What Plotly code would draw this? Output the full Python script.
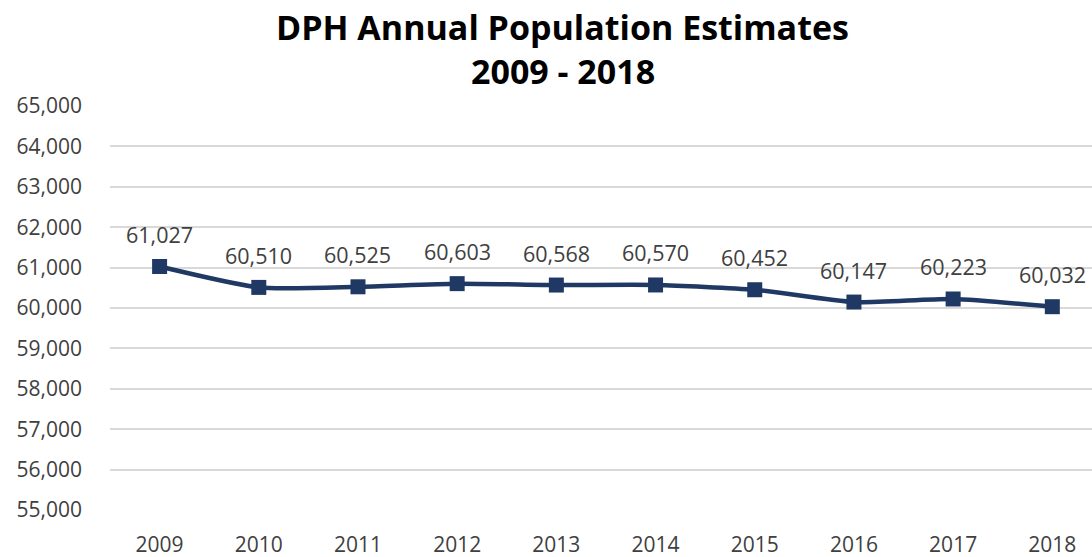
import plotly.graph_objects as go

years = ["2009", "2010", "2011", "2012", "2013", "2014", "2015", "2016", "2017", "2018"]
population = [61027, 60510, 60525, 60603, 60568, 60570, 60452, 60147, 60223, 60032]
y_ticks = [55000, 56000, 57000, 58000, 59000, 60000, 61000, 62000, 63000, 64000, 65000]
title_lines = ["DPH Annual Population Estimates", "2009 - 2018"]

line_color = "#1F3864"
font_family = "Open Sans, Noto Sans, sans-serif"

fig = go.Figure()
fig.add_trace(go.Scatter(
    x=years, y=population, mode="lines+markers",
    line=dict(color=line_color, width=4.5, shape="spline", smoothing=0.6),
    marker=dict(symbol="square", size=15, color=line_color),
    hoverinfo="x+y",
))

for i, val in enumerate(population):
    fig.add_annotation(x=i, y=val, xref="x", yref="y", text=f"{val:,}", showarrow=False,
                       yshift=32, font=dict(family=font_family, size=21.5, color="#404040"))

for line, ypos in zip(title_lines, [1.196, 1.086]):
    fig.add_annotation(x=0.461, y=ypos, xref="paper", yref="paper", text=f"<b>{line}</b>",
                       showarrow=False, xanchor="center", yanchor="middle",
                       font=dict(family=font_family, size=34, color="#000000"))

fig.update_layout(
    width=1092, height=557,
    margin=dict(l=110, r=0, t=106, b=47),
    paper_bgcolor="white", plot_bgcolor="white",
    showlegend=False,
    xaxis=dict(type="category", range=[-0.5, 9.4], showgrid=False, showline=False,
               ticks="", ticklabelstandoff=20,
               tickfont=dict(family=font_family, size=21, color="#404040")),
    yaxis=dict(range=[55000, 65000], tickvals=y_ticks, tickformat=",", showgrid=True,
               gridcolor="#D9D9D9", gridwidth=1.5, zeroline=False, showline=False, ticks="",
               ticklabelstandoff=27,
               tickfont=dict(family=font_family, size=21, color="#404040")),
)

fig.write_html("out.html", config={"displayModeBar": False})

with open("out.html", "r", encoding="utf-8") as f:
    html = f.read()
html = html.replace("<head>", "<head><style>html,body{margin:0;padding:0;overflow:hidden;}</style>", 1)
with open("out.html", "w", encoding="utf-8") as f:
    f.write(html)
